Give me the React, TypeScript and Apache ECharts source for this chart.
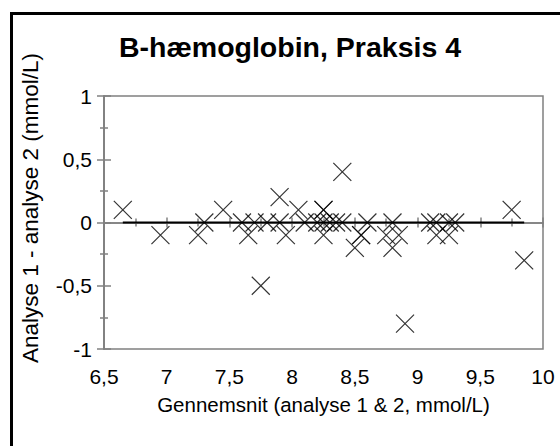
import React, { useEffect, useRef } from "react";
import * as echarts from "echarts";

const meanValues = [6.65, 6.95, 7.25, 7.3, 7.45, 7.6, 7.65, 7.7, 7.75, 7.8, 7.9, 7.9, 7.95, 8.05, 8.1, 8.2, 8.25, 8.25, 8.25, 8.25, 8.3, 8.35, 8.4, 8.4, 8.5, 8.55, 8.55, 8.6, 8.75, 8.8, 8.8, 8.85, 8.9, 9.1, 9.15, 9.15, 9.25, 9.25, 9.3, 9.75, 9.85];
const diffValues = [0.1, -0.1, -0.1, 0, 0.1, 0, -0.1, 0, -0.5, 0, 0.2, 0, -0.1, 0.1, 0, 0, 0.1, 0.1, 0, -0.1, 0, 0, 0.4, 0, -0.2, -0.1, -0.1, 0, -0.1, 0, -0.2, -0.1, -0.8, 0, 0, -0.1, 0, -0.1, 0, 0.1, -0.3];
const meanDiff = 0;

const titleText = "B-hæmoglobin, Praksis 4";
const xName = "Gennemsnit (analyse 1 & 2, mmol/L)";
const yName = "Analyse 1 - analyse 2 (mmol/L)";

const FONT = "Liberation Sans, Arial, sans-serif";
const fmt = (v: number) => String(v).replace(".", ",");

export default function App() {
  const ref = useRef<HTMLDivElement>(null);
  useEffect(() => {
    if (!ref.current) return;
    const chart = echarts.init(ref.current, undefined, { renderer: "svg" });
    const points = meanValues.map((m, i) => [m, diffValues[i]]);
    const minX = Math.min(...meanValues);
    const maxX = Math.max(...meanValues);
    const axisGray = "#808080";
    const baseX = {
      type: "value" as const,
      min: 6.5,
      max: 10,
      interval: 0.5,
      position: "bottom" as const,
      splitLine: { show: false },
      axisLine: { show: true, lineStyle: { color: axisGray, width: 1.5 } },
    };
    const baseY = {
      type: "value" as const,
      min: -1,
      max: 1,
      interval: 0.5,
      position: "left" as const,
      splitLine: { show: false },
      axisLine: { show: true, lineStyle: { color: axisGray, width: 1.5 } },
    };
    chart.setOption({
      animation: false,
      backgroundColor: "#ffffff",
      textStyle: { fontFamily: FONT },
      graphic: [
        {
          type: "rect",
          shape: { x: 11.5, y: 13.5, width: 800, height: 800 },
          style: { fill: "none", stroke: "#000", lineWidth: 3 },
          silent: true,
        },
        {
          type: "text",
          x: 290,
          y: 47,
          style: {
            text: titleText,
            fontFamily: FONT,
            fontWeight: "bold",
            fontSize: 28.5,
            fill: "#000",
            textAlign: "center",
            textVerticalAlign: "middle",
          },
        },
        {
          type: "text",
          x: 30,
          y: 208,
          rotation: Math.PI / 2,
          style: {
            text: yName,
            fontFamily: FONT,
            fontSize: 22.5,
            fill: "#000",
            textAlign: "center",
            textVerticalAlign: "middle",
          },
        },
      ],
      grid: {
        left: 104,
        right: 17,
        top: 96,
        bottom: 97,
        show: true,
        borderColor: axisGray,
        borderWidth: 1.5,
        backgroundColor: "transparent",
      },
      xAxis: [
        {
          ...baseX,
          name: xName,
          nameLocation: "middle",
          nameGap: 45,
          nameTextStyle: { fontFamily: FONT, fontSize: 20.5, color: "#000" },
          axisTick: { show: true, inside: false, length: 5, lineStyle: { color: axisGray, width: 1.5 } },
          minorTick: { show: true, splitNumber: 2, length: 4, lineStyle: { color: axisGray, width: 1.5 } },
          axisLabel: { fontFamily: FONT, fontSize: 21, color: "#000", margin: 17, formatter: fmt },
        },
        {
          ...baseX,
          axisTick: { show: true, inside: true, length: 5, lineStyle: { color: axisGray, width: 1.5 } },
          minorTick: { show: true, splitNumber: 2, length: 4, lineStyle: { color: axisGray, width: 1.5 } },
          axisLabel: { show: false },
        },
      ],
      yAxis: [
        {
          ...baseY,
          axisTick: { show: true, inside: false, length: 7, lineStyle: { color: axisGray, width: 1.5 } },
          minorTick: { show: true, splitNumber: 2, length: 4, lineStyle: { color: axisGray, width: 1.5 } },
          axisLabel: { fontFamily: FONT, fontSize: 21, color: "#000", margin: 12, formatter: fmt },
        },
        {
          ...baseY,
          axisTick: { show: true, inside: true, length: 7, lineStyle: { color: axisGray, width: 1.5 } },
          minorTick: { show: true, splitNumber: 2, length: 4, lineStyle: { color: axisGray, width: 1.5 } },
          axisLabel: { show: false },
        },
      ],
      series: [
        {
          type: "line",
          xAxisIndex: 0,
          yAxisIndex: 0,
          data: [
            [minX, meanDiff],
            [maxX, meanDiff],
          ],
          symbol: "none",
          lineStyle: { color: "#000", width: 2 },
          z: 3,
        },
        {
          type: "scatter",
          xAxisIndex: 0,
          yAxisIndex: 0,
          data: points,
          symbol: "path://M0 0L10 10M10 0L0 10",
          symbolSize: 18,
          itemStyle: { color: "transparent", borderColor: "#000", borderWidth: 1.2 },
          z: 4,
        },
      ],
    });
    return () => chart.dispose();
  }, []);
  return (
    <div
      ref={ref}
      style={{ position: "fixed", left: 0, top: 0, width: 560, height: 446, background: "#fff" }}
    />
  );
}
